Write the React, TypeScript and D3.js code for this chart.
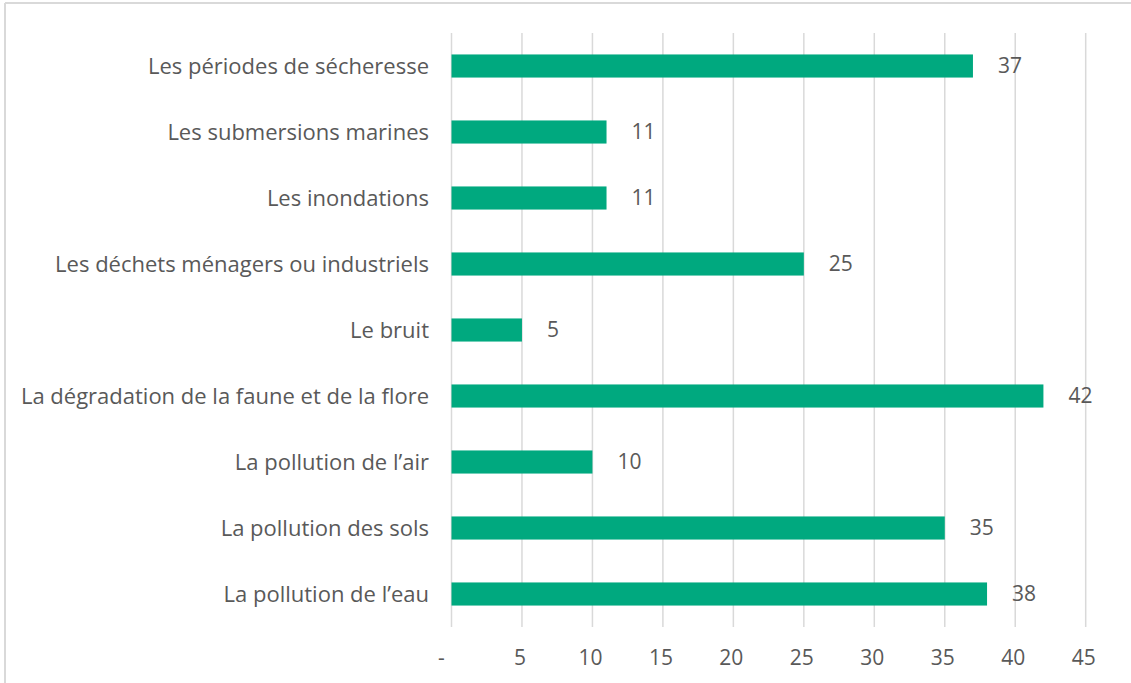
import React from "react";
import * as d3 from "d3";

const categories = [
  "Les périodes de sécheresse",
  "Les submersions marines",
  "Les inondations",
  "Les déchets ménagers ou industriels",
  "Le bruit",
  "La dégradation de la faune et de la flore",
  "La pollution de l’air",
  "La pollution des sols",
  "La pollution de l’eau",
];
const values = [37, 11, 11, 25, 5, 42, 10, 35, 38];
const ticks = [0, 5, 10, 15, 20, 25, 30, 35, 40, 45];
const tickLabel = (v: number) => (v === 0 ? "-" : String(v));

export default function App() {
  const W = 1131, H = 683;
  const x = d3.scaleLinear().domain([0, 45]).range([451.5, 1085.7]);
  const y = d3.scaleBand<string>().domain(categories).range([33, 627]).paddingInner(0.65).paddingOuter(0.325);
  const font = "'Open Sans', sans-serif";
  const color = "#595959";
  return (
    <svg width={W} height={H} style={{ position: "absolute", left: 0, top: 0, background: "#fff" }}>
      <rect x={0} y={0} width={W} height={H} fill="#fff" />
      <line x1={5} x2={5} y1={3} y2={H} stroke="#d9d9d9" strokeWidth={2} />
      <line x1={5} x2={W} y1={3} y2={3} stroke="#d9d9d9" strokeWidth={2} />
      {ticks.map((t) => (
        <line key={t} x1={x(t)} x2={x(t)} y1={33} y2={627} stroke="#d9d9d9" strokeWidth={1.5} />
      ))}
      {categories.map((c, i) => (
        <g key={c}>
          <rect x={x(0)} y={y(c)!} width={x(values[i]) - x(0)} height={y.bandwidth()} fill="#00a97f" />
          <text x={429} y={y(c)! + y.bandwidth() / 2} dy="0.35em" textAnchor="end" fontFamily={font} fontSize={22} fill={color}>
            {c}
          </text>
          <text x={x(values[i]) + 25} y={y(c)! + y.bandwidth() / 2} dy="0.35em" fontFamily={font} fontSize={21} fill={color}>
            {values[i]}
          </text>
        </g>
      ))}
      {ticks.map((t) => (
        <text key={t} x={t === 0 ? x(t) - 10 : x(t) - 2} y={658} dy="0.35em" textAnchor="middle" fontFamily={font} fontSize={21} fill={color}>
          {tickLabel(t)}
        </text>
      ))}
    </svg>
  );
}
